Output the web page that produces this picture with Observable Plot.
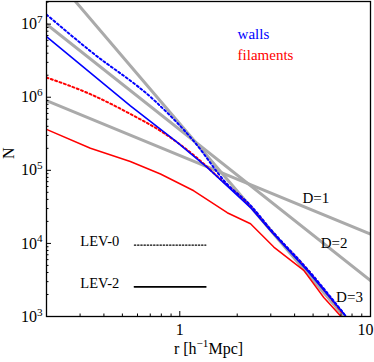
<!DOCTYPE html>
<html><head><meta charset="utf-8">
<script src="https://cdn.jsdelivr.net/npm/d3@7"></script>
<script src="https://cdn.jsdelivr.net/npm/@observablehq/plot@0.6"></script>
<style>html,body{margin:0;padding:0;background:#fff} svg{display:block}</style>
</head><body><div id="chart"></div>
<script>
// ---- data ----
// walls, LEV-2 (solid blue)
const wallsLev2R = [0.2, 0.551, 0.952, 1.392, 2.35, 3.0, 4.66, 7.4];
const wallsLev2N = [6.76e6, 7.59e5, 2.51e5, 1.10e5, 3.09e4, 1.48e4, 4.27e3, 1.02e3];
// walls, LEV-0 (dotted blue)
const wallsLev0R = [0.2, 0.34, 0.74, 1.184, 1.773, 2.35, 3.0, 4.66, 7.3];
const wallsLev0N = [1.35e7, 4.27e6, 8.91e5, 2.51e5, 6.46e4, 3.31e4, 1.55e4, 4.47e3, 1.07e3];
// filaments, LEV-0 (dotted red)
const filLev0R = [0.2, 0.34, 0.551, 0.824, 1.23, 1.63, 2.26, 3.0, 4.66, 7.2];
const filLev0N = [1.86e6, 1.10e6, 5.89e5, 3.24e5, 1.48e5, 7.59e4, 3.55e4, 1.51e4, 4.37e3, 1.07e3];
// filaments, LEV-2 (solid red)
const filLev2R = [0.2, 0.34, 0.55, 0.792, 1.184, 1.773, 2.349, 3.111, 4.468, 5.69, 6.96];
const filLev2N = [3.63e5, 2.0e5, 1.32e5, 8.91e4, 5.25e4, 2.63e4, 1.86e4, 8.91e3, 4.27e3, 1.82e3, 1.02e3];
// reference power laws D=1,2,3 (end points)
const refD1R = [0.2, 10];   const refD1N = [9.0e5, 1.34e4];
const refD2R = [0.2, 10];   const refD2N = [1.0e7, 3.1e3];
const refD3R = [0.284, 7.5]; const refD3N = [2.04e7, 9.1e2];
// annotation labels
const refLabels = ["D=1", "D=2", "D=3"];
const refLabelR = [5.17, 6.44, 7.76];
const refLabelN = [4.2e4, 1.0e4, 1.83e3];
const seriesLabels = ["walls", "filaments"];
const seriesLabelR = [2.01, 2.01];
const seriesLabelN = [7.3e6, 3.75e6];
const legendLabels = ["LEV-0", "LEV-2"];
const legendLabelR = [0.301, 0.301];
const legendLabelN = [1.06e4, 2.88e3];
const legendLineR = [0.578, 1.37];
const legendLineN = [9.5e3, 2.54e3];
// axes
const xDomain = [0.2, 10];
const yDomain = [1e3, 2.04e7];
const xTicks = [1, 10];
const xTickLabels = ["1", "10"];
const yTicks = [1e3, 1e4, 1e5, 1e6, 1e7];
const yTickLabels = ["10^3", "10^4", "10^5", "10^6", "10^7"];
const xMinorTicks = [0.2,0.3,0.4,0.5,0.6,0.7,0.8,0.9,2,3,4,5,6,7,8,9];
const yMinorTicks = [1e3,1e4,1e5,1e6].flatMap(b => [2,3,4,5,6,7,8,9].map(m => m * b)).concat([2e7]);
const xLabel = "r [h^{\u22121}Mpc]";
const yLabel = "N";

const zip = (R, N) => R.map((r, i) => ({r, n: N[i]}));
const yFmt = new Map(yTicks.map((t, i) => [t, yTickLabels[i]]));
const xFmt = new Map(xTicks.map((t, i) => [t, xTickLabels[i]]));
const font = "'Liberation Serif', 'Times New Roman', serif";

const refs = [[refD1R, refD1N], [refD2R, refD2N], [refD3R, refD3N]];
const dotted = "2,2.6";
const curve = "monotone-x";

const plot = Plot.plot({
  width: 374, height: 362,
  marginLeft: 46, marginRight: 4, marginTop: 1, marginBottom: 46,
  style: {fontFamily: font, fontSize: "16px", background: "white", color: "black", overflow: "visible"},
  x: {type: "log", domain: xDomain, axis: null},
  y: {type: "log", domain: yDomain, axis: null},
  marks: [
    ...refs.map(([R, N]) => Plot.line(zip(R, N), {x: "r", y: "n", stroke: "#aaaaaa", strokeWidth: 3, clip: true})),
    Plot.line(zip(filLev2R, filLev2N), {x: "r", y: "n", stroke: "#ff0000", strokeWidth: 1.5, clip: true}),
    Plot.line(zip(filLev0R, filLev0N), {x: "r", y: "n", stroke: "#ff0000", strokeWidth: 2, strokeDasharray: dotted, curve, clip: true}),
    Plot.line(zip(wallsLev2R, wallsLev2N), {x: "r", y: "n", stroke: "#0000ff", strokeWidth: 1.6, clip: true}),
    Plot.line(zip(wallsLev0R, wallsLev0N), {x: "r", y: "n", stroke: "#0000ff", strokeWidth: 2, strokeDasharray: dotted, curve, clip: true}),
    // legend segments
    Plot.line(legendLineR.map(r => ({r, n: legendLineN[0]})), {x: "r", y: "n", stroke: "black", strokeWidth: 1.3, strokeDasharray: "1.4,1.8"}),
    Plot.line(legendLineR.map(r => ({r, n: legendLineN[1]})), {x: "r", y: "n", stroke: "black", strokeWidth: 1.6}),
    Plot.text(legendLabels.map((t, i) => ({t, r: legendLabelR[i], n: legendLabelN[i]})), {x: "r", y: "n", text: "t", textAnchor: "start", fontSize: 14.5, fill: "black"}),
    Plot.text(refLabels.map((t, i) => ({t, r: refLabelR[i], n: refLabelN[i]})), {x: "r", y: "n", text: "t", fontSize: 15, fill: "black"}),
    Plot.text(seriesLabels.map((t, i) => ({t, r: seriesLabelR[i], n: seriesLabelN[i]})), {x: "r", y: "n", text: "t", textAnchor: "start", fontSize: 15, fill: (d) => d.t === "walls" ? "#0000ff" : "#ff0000"}),
    Plot.frame({stroke: "black", strokeWidth: 1.3}),
    // inward ticks
    Plot.axisY({ticks: yMinorTicks, tickSize: 2.5, dx: 2.5, fill: "none", label: null, tickFormat: () => ""}),
    Plot.axisY({ticks: yTicks, tickSize: 5, dx: 5, fill: "none", label: null, tickFormat: () => ""}),
    Plot.axisX({ticks: xMinorTicks, tickSize: 2.5, dy: -2.5, fill: "none", label: null, tickFormat: () => ""}),
    Plot.axisX({ticks: xTicks, tickSize: 5, dy: -5, fill: "none", label: null, tickFormat: () => ""}),
    // labels
    Plot.axisY({ticks: yTicks, tickSize: 0, tickPadding: 4, label: null, tickFormat: d => yFmt.get(d), fontSize: 16}),
    Plot.axisX({ticks: [xTicks[0]], tickSize: 0, tickPadding: 7, label: null, tickFormat: d => xFmt.get(d), fontSize: 16}),
    Plot.axisX({ticks: [xTicks[1]], tickSize: 0, tickPadding: 7, label: null, tickFormat: d => xFmt.get(d), fontSize: 16, textAnchor: "end", dx: 3}),
    Plot.text([yLabel], {frameAnchor: "left", dx: -38, rotate: -90, fontSize: 16, fill: "black"}),
    Plot.text([xLabel], {frameAnchor: "bottom", dy: 37, fontSize: 16, fill: "black"})
  ]
});
document.getElementById("chart").appendChild(plot);

// superscripts: "a^b" or "a^{bc}"
d3.select(plot).selectAll("text").each(function () {
  const leaves = this.querySelector("tspan") ? Array.from(this.querySelectorAll("tspan")) : [this];
  for (const t of leaves) {
    const s = t.textContent;
    const m = s.match(/^(.*?)\^(?:\{([^}]*)\}|(\S))(.*)$/);
    if (!m) continue;
    const fs = parseFloat(getComputedStyle(t).fontSize) || 16;
    const sup = m[2] !== undefined ? m[2] : m[3];
    const shift = fs * 0.38;
    t.textContent = "";
    t.appendChild(document.createTextNode(m[1]));
    const ts = document.createElementNS("http://www.w3.org/2000/svg", "tspan");
    ts.setAttribute("dy", -shift);
    ts.setAttribute("font-size", fs * 0.7);
    ts.textContent = sup;
    t.appendChild(ts);
    if (m[4]) {
      const rest = document.createElementNS("http://www.w3.org/2000/svg", "tspan");
      rest.setAttribute("dy", shift);
      rest.textContent = m[4];
      t.appendChild(rest);
    }
  }
});
</script>
</body></html>
